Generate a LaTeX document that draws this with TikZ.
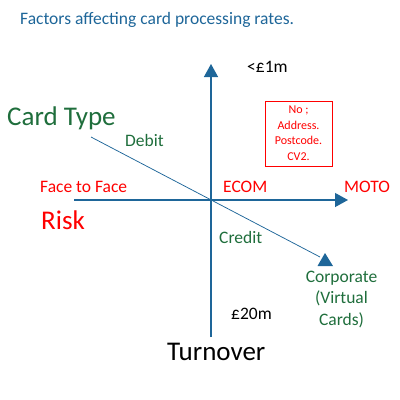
\documentclass[tikz,border=0pt]{standalone}
\usepackage{fontspec}
\setmainfont{Carlito}
\usetikzlibrary{arrows.meta}
\definecolor{axblue}{HTML}{1E6699}
\definecolor{cgreen}{HTML}{1F6E3C}
\definecolor{cred}{HTML}{FF0000}
\tikzset{
  lbl/.style={inner sep=0pt, anchor=base west, font=\fontsize{17.5}{21}\selectfont},
  big/.style={inner sep=0pt, anchor=base west, font=\fontsize{27}{32}\selectfont},
  boxtxt/.style={inner sep=0pt, anchor=base, font=\fontsize{12}{15}\selectfont, text=cred},
  axis/.style={draw=axblue, line width=1.3pt, -{Triangle[length=13pt,width=14pt]}},
  diag/.style={draw=axblue, line width=0.75pt},
}
\begin{document}
\begin{tikzpicture}[x=1pt,y=-1pt]
\useasboundingbox (0,0) rectangle (400,400);
% axes
\coordinate (vb) at (211,337);
\coordinate (vt) at (211,64);
\coordinate (hl) at (74,200);
\coordinate (hr) at (348,200);
\coordinate (ds) at (91,137);
\coordinate (de) at (320,257);
\draw[axis] (vb) -- (vt);
\draw[axis] (hl) -- (hr);
\draw[diag] (ds) -- (de);
\fill[axblue] (325,253) -- (333,266) -- (317.5,266) -- cycle;
% texts
\node[lbl, text=axblue] (title) at (20,24) {Factors affecting card processing rates.};
\node[lbl] (top) at (247,72) {<£1m};
\node[big, text=cgreen] (ctype) at (7,125) {Card Type};
\node[lbl, text=cgreen] (debit) at (125,146) {Debit};
\node[lbl, text=cred] (f2f) at (40,192) {Face to Face};
\node[lbl, text=cred] (ecom) at (223,192) {ECOM};
\node[lbl, text=cred] (moto) at (344,192) {MOTO};
\node[big, text=cred] (risk) at (41,229) {Risk};
\node[lbl, text=cgreen] (credit) at (219,243) {Credit};
\node[lbl] (bot) at (231,319) {£20m};
\node[big] (turn) at (167,360) {Turnover};
\node[lbl, anchor=base, text=cgreen] (corp1) at (341.5,282) {Corporate};
\node[lbl, anchor=base, text=cgreen] (corp2) at (341.5,303.5) {(Virtual};
\node[lbl, anchor=base, text=cgreen] (corp3) at (341.5,325) {Cards)};
% red box
\draw[cred, line width=0.9pt] (265,101) rectangle (332,166);
\node[boxtxt] (b1) at (298.5,113) {No ;};
\node[boxtxt] (b2) at (298.5,129) {Address.};
\node[boxtxt] (b3) at (298.5,144) {Postcode.};
\node[boxtxt] (b4) at (298.5,160) {CV2.};
\end{tikzpicture}
\end{document}
